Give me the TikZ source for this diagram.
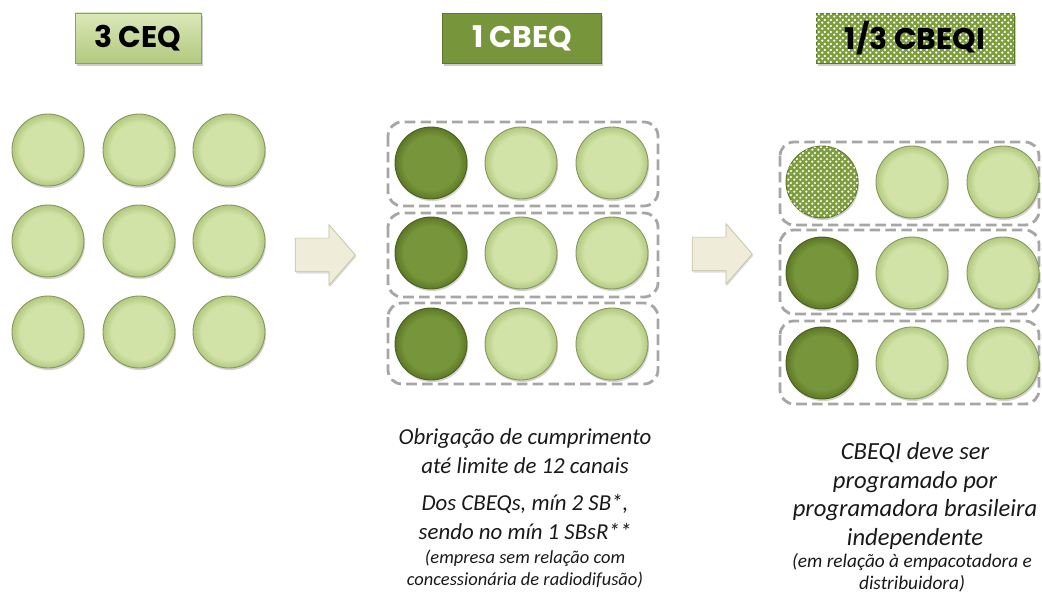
\documentclass[tikz,border=0pt]{standalone}
\usepackage{fontspec}
\setmainfont{Carlito}
\newfontfamily\headfont{Poppins}
\usetikzlibrary{shapes.arrows,shadows,patterns.meta}
\definecolor{paleball}{HTML}{D2E3A8}
\definecolor{palerim}{HTML}{B2C97E}
\definecolor{deepball}{HTML}{77953A}
\definecolor{deeprim}{HTML}{5C7826}
\definecolor{dotgreen}{HTML}{7E9E3C}
\definecolor{cream}{HTML}{EFEDDA}
\definecolor{creamrim}{HTML}{C2BEA4}
\definecolor{dashgray}{HTML}{A6A6A6}
\pgfdeclareradialshading{paleshade}{\pgfpoint{0bp}{0bp}}{color(0bp)=(paleball); color(19bp)=(paleball); color(25bp)=(palerim); color(50bp)=(palerim)}
\pgfdeclareradialshading{deepshade}{\pgfpoint{0bp}{0bp}}{color(0bp)=(deepball); color(19bp)=(deepball); color(25bp)=(deeprim); color(50bp)=(deeprim)}
\tikzdeclarepattern{name=dotty, type=uncolored, bounding box={(0pt,0pt) and (3.2pt,3.2pt)}, tile size={(3.2pt,3.2pt)},
  code={\fill (0.8pt,0.8pt) circle (0.75pt); \fill (2.4pt,2.4pt) circle (0.75pt);}}
\begin{document}
\begin{tikzpicture}[x=0.02cm, y=-0.02cm,
    disc/.style={circle, minimum size=1.44cm, inner sep=0pt, line width=0.5pt, drop shadow={opacity=0.35, shadow xshift=0.6pt, shadow yshift=-1.2pt}},
    pale/.style={disc, draw=palerim!75!black, shade, shading=paleshade},
    deep/.style={disc, draw=deeprim!80!black, shade, shading=deepshade},
    dotted disc/.style={disc, draw=deeprim, fill=dotgreen, postaction={pattern=dotty, pattern color=white}},
    headbox/.style={rectangle, minimum height=1cm, inner sep=0pt, font=\headfont\bfseries\fontsize{17}{20}\selectfont, drop shadow={opacity=0.4, shadow xshift=1pt, shadow yshift=-1.5pt}},
    groupbox/.style={draw=dashgray, line width=1.6pt, dash pattern=on 6pt off 3pt, rounded corners=8pt},
    fwd/.style={single arrow, draw=creamrim, fill=cream, minimum height=1.2cm, inner xsep=0pt, inner ysep=0.33cm, single arrow head extend=0.27cm, single arrow tip angle=98, drop shadow={opacity=0.25, shadow xshift=0.6pt, shadow yshift=-1pt}},
    note/.style={align=center, text=black!90, font=\itshape\fontsize{13}{16.5}\selectfont},
    small note/.style={align=center, text=black!90, font=\itshape\fontsize{10.5}{12.5}\selectfont}]
  \useasboundingbox (0,0) rectangle (1042,594);

  % titles
  \node[headbox, minimum width=2.52cm, top color=paleball!80!white, bottom color=palerim, draw=palerim!80!black] (ceq) at (138,38) {3 CEQ};
  \node[headbox, minimum width=3.18cm, fill=deepball, draw=deeprim, text=white] (cbeq) at (522,38) {1 CBEQ};
  \node[headbox, minimum width=3.96cm, fill=dotgreen, draw=deeprim, postaction={pattern=dotty, pattern color=white}] (cbeqi) at (915,38) {1/3 CBEQI};

  % 3 CEQ
  \node[pale] (c11) at (48,150) {};
  \node[pale] (c12) at (139,150) {};
  \node[pale] (c13) at (229,150) {};
  \node[pale] (c21) at (48,241) {};
  \node[pale] (c22) at (139,241) {};
  \node[pale] (c23) at (229,241) {};
  \node[pale] (c31) at (48,332) {};
  \node[pale] (c32) at (139,332) {};
  \node[pale] (c33) at (229,332) {};

  \node[fwd] (go1) at (318,255) {};

  % 1 CBEQ
  \draw[groupbox] (388,122) rectangle (658,206);
  \draw[groupbox] (388,213) rectangle (658,297);
  \draw[groupbox] (388,303) rectangle (658,384);
  \node[deep] (m11) at (431,163) {};
  \node[pale] (m12) at (521,163) {};
  \node[pale] (m13) at (612,163) {};
  \node[deep] (m21) at (431,253) {};
  \node[pale] (m22) at (521,253) {};
  \node[pale] (m23) at (612,253) {};
  \node[deep] (m31) at (431,344) {};
  \node[pale] (m32) at (521,344) {};
  \node[pale] (m33) at (612,344) {};

  \node[fwd] (go2) at (715,254) {};

  % 1/3 CBEQI
  \draw[groupbox] (780,142) rectangle (1039,225);
  \draw[groupbox] (780,230) rectangle (1039,314);
  \draw[groupbox] (780,321) rectangle (1039,404);
  \node[dotted disc] (r11) at (822,182) {};
  \node[pale] (r12) at (912,182) {};
  \node[pale] (r13) at (1003,182) {};
  \node[deep] (r21) at (822,273) {};
  \node[pale] (r22) at (912,273) {};
  \node[pale] (r23) at (1003,273) {};
  \node[deep] (r31) at (822,363) {};
  \node[pale] (r32) at (912,363) {};
  \node[pale] (r33) at (1003,363) {};

  % notes
  \node[note] (limit) at (525,451) {Obrigação de cumprimento\\até limite de 12 canais};
  \node[note] (quota) at (525,517) {Dos CBEQs, mín 2 SB*,\\sendo no mín 1 SBsR**};
  \node[small note] (sbsr) at (525,569) {(empresa sem relação com\\concessionária de radiodifusão)};
  \node[note, font=\itshape\fontsize{14}{16.3}\selectfont] (indep) at (915,496) {CBEQI deve ser\\programado por\\programadora brasileira\\independente};
  \node[small note, inner sep=1pt, font=\itshape\fontsize{11}{12.3}\selectfont] (ref) at (912,573) {(em relação à empacotadora e\\distribuidora)};
\end{tikzpicture}
\end{document}
